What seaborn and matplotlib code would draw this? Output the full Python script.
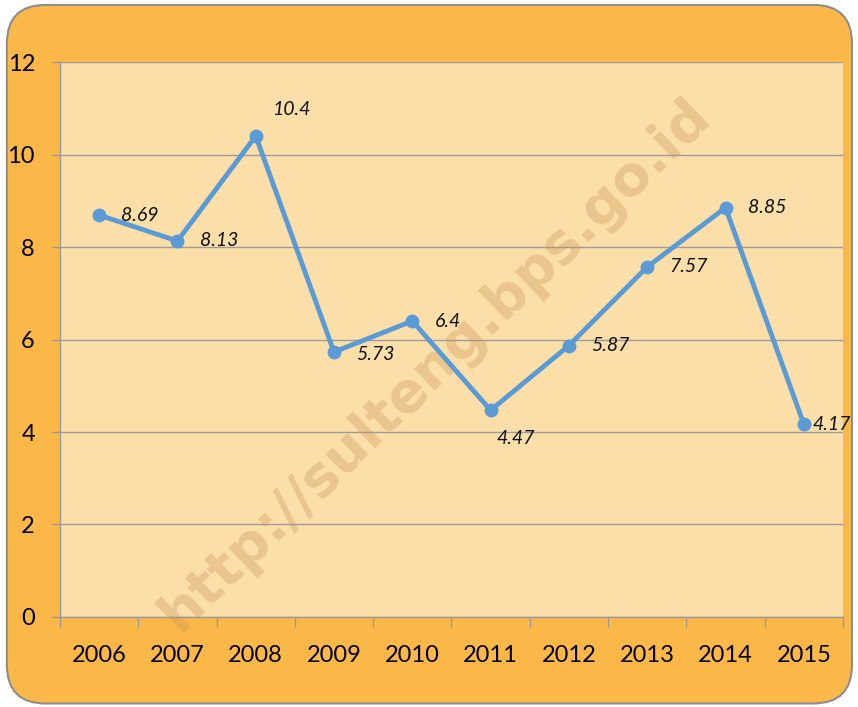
import numpy as np
import pandas as pd
import matplotlib
matplotlib.use("Agg")
import matplotlib.pyplot as plt
from matplotlib.patches import FancyBboxPatch
import seaborn as sns

years = ["2006", "2007", "2008", "2009", "2010", "2011", "2012", "2013", "2014", "2015"]
values = [8.69, 8.13, 10.4, 5.73, 6.4, 4.47, 5.87, 7.57, 8.85, 4.17]
label_offsets = [(16, 0), (16, 0), (12, 19), (16, -2), (16, 0), (4, -20), (16, 0), (16, 0), (16, 0), (6, 0)]

df = pd.DataFrame({"year": years, "value": values})

sns.set_theme(style="white")
plt.rcParams["font.family"] = ["Lato", "DejaVu Sans"]

fig = plt.figure(figsize=(8.58, 7.07), dpi=100)
fig.patch.set_facecolor("white")

# rounded orange frame
frame = FancyBboxPatch((0.008, 0.005), 0.985, 0.988, boxstyle="round,pad=0,rounding_size=0.045",
                       transform=fig.transFigure, facecolor="#FBB848", edgecolor="#8E8E8E",
                       linewidth=1.5, zorder=-10, mutation_aspect=858 / 707)
fig.patches.append(frame)

ax = fig.add_axes([0.0699, 0.1273, 0.9126, 0.785])
ax.set_facecolor("#FCDFA8")

sns.lineplot(data=df, x="year", y="value", ax=ax, color="#5B9BD5", linewidth=3.5,
             marker="o", markersize=10, markeredgewidth=0, zorder=3)

for i, (v, off) in enumerate(zip(values, label_offsets)):
    ax.annotate(f"{v:g}", (i, v), xytext=off, textcoords="offset points",
                ha="left", va="center", fontsize=14, fontstyle="italic", color="#111111")

ax.set_xlim(-0.5, 9.5)
ax.set_ylim(0, 12)
ax.set_yticks(range(0, 13, 2))
ax.set_xticks(np.arange(-0.5, 10, 1))
ax.set_xticklabels([])
ax.set_xticks(range(10), minor=True)
ax.set_xticklabels(years, minor=True)
ax.tick_params(axis="x", which="major", bottom=True, length=7, color="#9A9A9A", width=1, direction="out")
ax.tick_params(axis="x", which="minor", bottom=True, length=0, pad=20, labelsize=17, labelcolor="black")
ax.tick_params(axis="y", left=True, length=6, color="#9A9A9A", width=1, pad=12, labelsize=17,
               labelcolor="black")
ax.yaxis.grid(True, color="#9C9C9C", linewidth=1)
ax.set_axisbelow(True)
ax.set_xlabel("")
ax.set_ylabel("")
for side in ["top", "right"]:
    ax.spines[side].set_visible(False)
for side in ["left", "bottom"]:
    ax.spines[side].set_color("#9A9A9A")
    ax.spines[side].set_linewidth(1)

# watermark, under the line
ax.text(0.507, 0.484, "http://sulteng.bps.go.id", transform=fig.transFigure, rotation=44,
        ha="center", va="center", fontsize=40, fontweight="bold", color="#C8955A",
        alpha=0.35, zorder=2, family=["DejaVu Sans"])

fig.savefig("out.png", dpi=100)
